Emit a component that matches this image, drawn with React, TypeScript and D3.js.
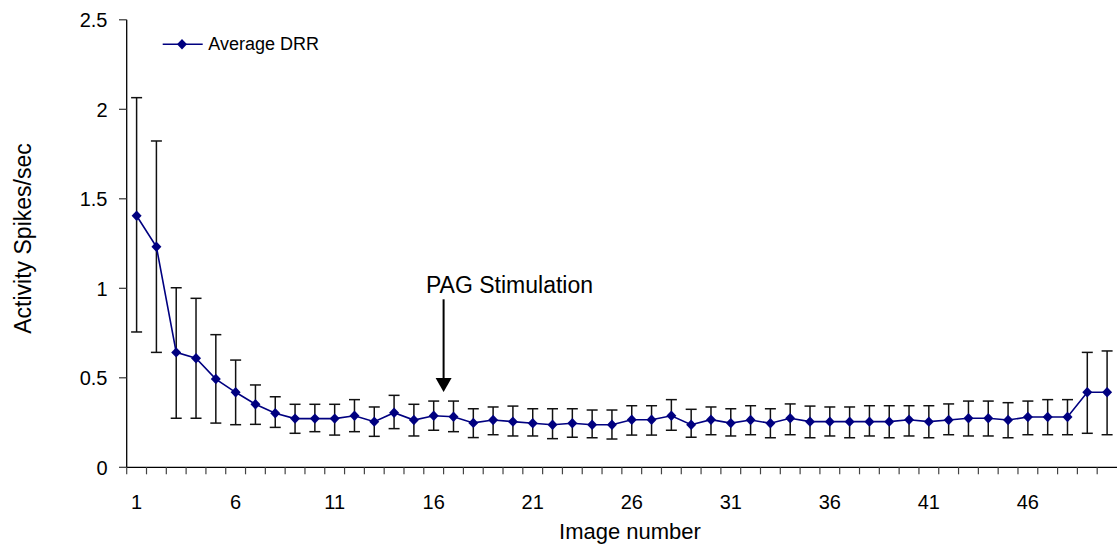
import * as d3 from "d3";

const images = d3.range(1, 51);
const meanRate = [
  1.405, 1.232, 0.642, 0.609, 0.493, 0.419, 0.352, 0.302, 0.272, 0.272,
  0.272, 0.288, 0.255, 0.305, 0.264, 0.288, 0.282, 0.248, 0.264, 0.255,
  0.246, 0.238, 0.246, 0.238, 0.238, 0.266, 0.266, 0.288, 0.238, 0.266,
  0.247, 0.264, 0.246, 0.274, 0.255, 0.255, 0.255, 0.255, 0.255, 0.266,
  0.255, 0.264, 0.274, 0.274, 0.264, 0.281, 0.281, 0.281, 0.419, 0.419,
];
const upperErr = [
  2.065, 1.823, 1.003, 0.944, 0.741, 0.599, 0.46, 0.394, 0.352, 0.352,
  0.352, 0.378, 0.337, 0.402, 0.352, 0.37, 0.37, 0.327, 0.337, 0.342,
  0.327, 0.327, 0.327, 0.32, 0.32, 0.344, 0.344, 0.378, 0.324, 0.337,
  0.327, 0.344, 0.327, 0.354, 0.342, 0.337, 0.337, 0.344, 0.344, 0.344,
  0.344, 0.354, 0.37, 0.37, 0.361, 0.37, 0.378, 0.378, 0.642, 0.65,
];
const lowerErr = [
  0.756, 0.642, 0.274, 0.274, 0.247, 0.238, 0.24, 0.223, 0.19, 0.199,
  0.18, 0.199, 0.173, 0.216, 0.175, 0.207, 0.199, 0.166, 0.182, 0.175,
  0.175, 0.16, 0.168, 0.165, 0.158, 0.18, 0.18, 0.207, 0.168, 0.182,
  0.175, 0.182, 0.165, 0.182, 0.165, 0.175, 0.165, 0.175, 0.165, 0.175,
  0.165, 0.182, 0.175, 0.175, 0.165, 0.182, 0.182, 0.182, 0.19, 0.182,
];
const yTicks = [0, 0.5, 1, 1.5, 2, 2.5];
const xLabels = [1, 6, 11, 16, 21, 26, 31, 36, 41, 46];
const stimulationAt = 16.5;

const W = 1117;
const H = 550;
const FONT = "'Liberation Sans', Arial, sans-serif";
const NAVY = "#000080";

export default function App() {
  const x = d3
    .scaleBand<number>()
    .domain(images)
    .range([126.7, 1117])
    .padding(0);
  const cx = (d: number) => (x(d) ?? 0) + x.bandwidth() / 2;
  const y = d3.scaleLinear().domain([0, 2.5]).range([467.3, 19.8]);

  const line = d3
    .line<number>()
    .x((_, i) => cx(images[i]))
    .y((d) => y(d));

  const diamond = "M0,-5.2L5,0L0,5.2L-5,0Z";
  const arrowX = cx(1) + (stimulationAt - 1) * x.bandwidth();

  return (
    <div style={{ position: "absolute", left: 0, top: 0 }}>
      <svg width={W} height={H} style={{ display: "block", background: "#fff" }}>
        {/* y axis */}
        <line x1={126.7} x2={126.7} y1={y(2.5)} y2={y(0)} stroke="#000" strokeWidth={1.3} />
        {yTicks.map((t) => (
          <g key={t} transform={`translate(0,${y(t)})`}>
            <line x1={119} x2={126.7} stroke="#333" strokeWidth={1.2} />
            <text
              x={107.5}
              dy="0.38em"
              textAnchor="end"
              fontFamily={FONT}
              fontSize={20}
            >
              {t}
            </text>
          </g>
        ))}

        {/* x axis */}
        <line x1={126.7} x2={W} y1={y(0)} y2={y(0)} stroke="#000" strokeWidth={1.3} />
        {images.map((d) => (
          <line
            key={d}
            x1={x(d)}
            x2={x(d)}
            y1={y(0)}
            y2={y(0) + 7}
            stroke="#444"
            strokeWidth={1.2}
          />
        ))}
        {xLabels.map((d) => (
          <text
            key={d}
            x={cx(d)}
            y={509}
            textAnchor="middle"
            fontFamily={FONT}
            fontSize={20}
          >
            {d}
          </text>
        ))}

        {/* axis titles */}
        <text x={630} y={539} textAnchor="middle" fontFamily={FONT} fontSize={22}>
          Image number
        </text>
        <text
          transform="translate(30.5,238.5) rotate(-90)"
          textAnchor="middle"
          fontFamily={FONT}
          fontSize={23}
        >
          Activity Spikes/sec
        </text>

        {/* error bars */}
        {images.map((d, i) => (
          <g key={d} stroke="#111" strokeWidth={1.5}>
            <line x1={cx(d)} x2={cx(d)} y1={y(upperErr[i])} y2={y(lowerErr[i])} />
            <line x1={cx(d) - 5.5} x2={cx(d) + 5.5} y1={y(upperErr[i])} y2={y(upperErr[i])} />
            <line x1={cx(d) - 5.5} x2={cx(d) + 5.5} y1={y(lowerErr[i])} y2={y(lowerErr[i])} />
          </g>
        ))}

        {/* series */}
        <path d={line(meanRate) ?? ""} fill="none" stroke={NAVY} strokeWidth={1.6} />
        {images.map((d, i) => (
          <path
            key={d}
            d={diamond}
            transform={`translate(${cx(d)},${y(meanRate[i])})`}
            fill={NAVY}
          />
        ))}

        {/* annotation */}
        <text x={509.5} y={293.3} textAnchor="middle" fontFamily={FONT} fontSize={23}>
          PAG Stimulation
        </text>
        <line x1={arrowX} x2={arrowX} y1={299.3} y2={380} stroke="#000" strokeWidth={2} />
        <path
          d={`M${arrowX - 8},378L${arrowX + 8},378L${arrowX},392Z`}
          fill="#000"
        />

        {/* legend */}
        <line x1={162.7} x2={202.7} y1={44.3} y2={44.3} stroke={NAVY} strokeWidth={1.6} />
        <path d={diamond} transform="translate(182,44.3)" fill={NAVY} />
        <text x={208.3} y={50} fontFamily={FONT} fontSize={18}>
          Average DRR
        </text>
      </svg>
    </div>
  );
}
